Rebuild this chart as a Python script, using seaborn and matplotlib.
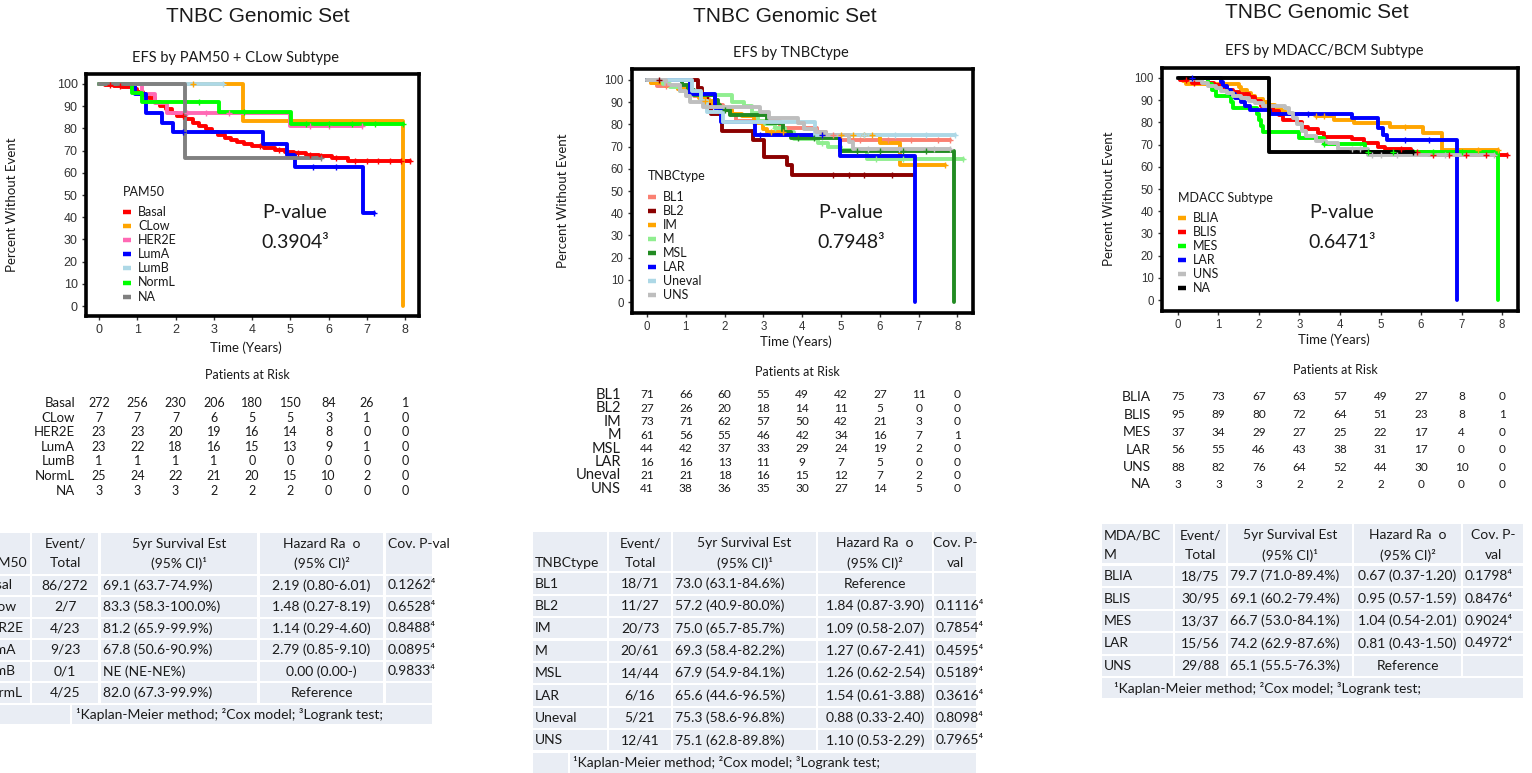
import numpy as np
import pandas as pd
import matplotlib
matplotlib.use("Agg")
import matplotlib.pyplot as plt
import seaborn as sns
from matplotlib.lines import Line2D
from matplotlib.patches import Rectangle
from matplotlib.transforms import blended_transform_factory

sns.set_theme(style="white")
plt.rcParams["font.family"] = ["Lato", "DejaVu Sans"]

W, H = 1532, 773
YEARS = list(range(9))
FOOTNOTE = "¹Kaplan-Meier method; ²Cox model; ³Logrank test;"
TITLE = "TNBC Genomic Set"

# ---------------- PAM50 + CLow ----------------
pam50_order = ["Basal", "CLow", "HER2E", "LumA", "LumB", "NormL", "NA"]
pam50_colors = {"Basal": "#FF0000", "CLow": "#FFA500", "HER2E": "#FF69B4",
                "LumA": "#0000FF", "LumB": "#ADD8E6", "NormL": "#00FF00", "NA": "#808080"}
pam50_times = {
    "Basal": [0, 0.15, 0.4, 0.6, 0.85, 1.0, 1.15, 1.3, 1.45, 1.6, 1.75, 1.9, 2.05, 2.25,
              2.45, 2.6, 2.8, 2.95, 3.1, 3.3, 3.45, 3.6, 3.8, 4.0, 4.3, 4.6, 4.85, 5.1,
              5.4, 5.75, 6.1, 6.5],
    "CLow": [0, 3.75, 7.93],
    "HER2E": [0, 1.11, 1.46, 1.77, 4.99],
    "LumA": [0, 0.94, 1.24, 1.64, 1.94, 4.29, 4.92, 5.13, 6.9],
    "LumB": [0],
    "NormL": [0, 0.85, 1.11, 3.13, 5.01],
    "NA": [0, 2.25],
}
pam50_surv = {
    "Basal": [100, 99.6, 99.0, 98.5, 97.8, 96.6, 95.2, 93.9, 92.0, 90.3, 88.6, 87.0, 85.6,
              84.1, 82.4, 81.0, 79.6, 78.4, 77.2, 75.8, 74.8, 73.9, 73.0, 72.2, 71.3, 70.2,
              69.4, 68.8, 68.2, 67.5, 66.8, 65.3],
    "CLow": [100, 83.3, 0],
    "HER2E": [100, 95.7, 91.3, 87.0, 81.2],
    "LumA": [100, 95.7, 87.0, 82.6, 78.3, 73.1, 67.8, 62.6, 41.8],
    "LumB": [100],
    "NormL": [100, 96.0, 92.0, 87.4, 82.0],
    "NA": [100, 66.7],
}
# last follow-up (None when the curve ends in a drop)
pam50_last = {"Basal": 8.12, "CLow": None, "HER2E": 6.86, "LumA": 7.18,
              "LumB": 3.23, "NormL": 7.95, "NA": 5.81}
pam50_censor = {
    "Basal": [0.3, 0.55, 2.2, 4.2, 4.7, 5.2, 5.5, 5.8, 6.2, 6.7, 7.0, 7.3, 7.6, 7.9, 8.12],
    "CLow": [2.46], "HER2E": [2.3, 2.8, 3.4, 5.5, 6.0, 6.86], "LumA": [2.2, 5.6, 6.2, 7.18],
    "LumB": [3.23], "NormL": [2.6, 3.8, 5.4, 6.0, 6.6, 7.2, 7.95], "NA": [5.81],
}
pam50_at_risk = {
    "Basal": [272, 256, 230, 206, 180, 150, 84, 26, 1],
    "CLow": [7, 7, 7, 6, 5, 5, 3, 1, 0],
    "HER2E": [23, 23, 20, 19, 16, 14, 8, 0, 0],
    "LumA": [23, 22, 18, 16, 15, 13, 9, 1, 0],
    "LumB": [1, 1, 1, 1, 0, 0, 0, 0, 0],
    "NormL": [25, 24, 22, 21, 20, 15, 10, 2, 0],
    "NA": [3, 3, 3, 2, 2, 2, 0, 0, 0],
}
pam50_pvalue = "0.3904³"
pam50_tab_groups = ["Basal", "CLow", "HER2E", "LumA", "LumB", "NormL"]
pam50_tab_events = ["86/272", "2/7", "4/23", "9/23", "0/1", "4/25"]
pam50_tab_surv5 = ["69.1 (63.7-74.9%)", "83.3 (58.3-100.0%)", "81.2 (65.9-99.9%)",
                   "67.8 (50.6-90.9%)", "NE (NE-NE%)", "82.0 (67.3-99.9%)"]
pam50_tab_hr = ["2.19 (0.80-6.01)", "1.48 (0.27-8.19)", "1.14 (0.29-4.60)",
                "2.79 (0.85-9.10)", "0.00 (0.00-)", "Reference"]
pam50_tab_p = ["0.1262⁴", "0.6528⁴", "0.8488⁴", "0.0895⁴", "0.9833⁴", ""]

# ---------------- TNBCtype ----------------
tnbc_order = ["BL1", "BL2", "IM", "M", "MSL", "LAR", "Uneval", "UNS"]
tnbc_colors = {"BL1": "#FA8072", "BL2": "#8B0000", "IM": "#FFA500", "M": "#90EE90",
               "MSL": "#228B22", "LAR": "#0000FF", "Uneval": "#ADD8E6", "UNS": "#BEBEBE"}
tnbc_times = {
    "BL1": [0, 0.1, 0.25, 0.8, 1.0, 1.2, 1.4, 1.6, 1.75, 1.95, 2.1, 2.2, 2.3, 3.43, 4.37,
            4.6, 4.97],
    "BL2": [0, 1.32, 1.42, 1.55, 1.65, 1.93, 2.74, 3.02, 3.6, 3.73],
    "IM": [0, 0.1, 0.5, 0.8, 1.0, 1.2, 1.35, 1.5, 1.7, 1.85, 2.0, 2.2, 2.45, 2.75, 3.0,
           3.1, 3.7, 6.0, 6.52],
    "M": [0, 0.4, 0.6, 0.85, 1.05, 2.2, 2.5, 2.7, 2.85, 3.05, 3.3, 3.55, 3.8, 4.4, 4.67,
          5.0, 5.66],
    "MSL": [0, 0.9, 1.05, 1.2, 1.75, 1.82, 1.88, 2.15, 3.08, 3.5, 3.7, 4.97, 7.9],
    "LAR": [0, 1.11, 1.75, 1.9, 2.78, 4.97, 6.91],
    "Uneval": [0, 1.15, 1.4, 1.55, 1.95, 4.33],
    "UNS": [0, 0.5, 0.85, 1.0, 1.1, 1.45, 2.9, 3.15, 3.9, 4.05, 4.35, 4.62, 5.2, 5.3],
}
tnbc_surv = {
    "BL1": [100, 98.6, 97.2, 95.8, 94.4, 93.0, 91.5, 90.1, 88.7, 87.3, 85.9, 84.5, 81.7,
            78.6, 76.7, 75.0, 73.0],
    "BL2": [100, 96.3, 92.6, 88.9, 84.7, 76.9, 73.0, 65.4, 61.5, 57.2],
    "IM": [100, 98.6, 97.3, 95.9, 94.5, 93.2, 91.8, 90.4, 89.0, 87.7, 86.3, 84.9, 83.6,
           80.8, 78.1, 76.7, 75.3, 71.4, 61.6],
    "M": [100, 98.4, 96.7, 95.1, 93.4, 90.0, 88.3, 85.0, 81.7, 80.0, 78.3, 76.6, 73.5,
          71.8, 70.0, 68.3, 64.2],
    "MSL": [100, 97.7, 95.5, 93.2, 90.9, 88.6, 86.4, 84.1, 80.7, 76.7, 74.0, 67.9, 0],
    "LAR": [100, 93.8, 87.5, 81.3, 75.0, 65.6, 0],
    "Uneval": [100, 95.2, 90.5, 85.7, 81.0, 75.3],
    "UNS": [100, 97.6, 95.1, 92.7, 90.2, 87.8, 85.4, 82.9, 80.5, 78.0, 76.6, 75.1, 71.9,
            68.8],
}
tnbc_last = {"BL1": 7.8, "BL2": 6.86, "IM": 7.68, "M": 8.15, "MSL": None, "LAR": None,
             "Uneval": 7.94, "UNS": 7.81}
tnbc_censor = {
    "BL1": [0.5, 4.8, 5.5, 6.2, 6.8, 7.5, 7.8], "BL2": [0.3, 4.8, 5.2, 5.6, 6.3],
    "IM": [1.5, 3.2, 3.5, 4.5, 5.0, 5.3, 5.6, 5.8, 7.68], "M": [3.3, 4.5, 5.9, 6.6, 8.15],
    "MSL": [2.0, 3.9, 4.3, 5.4, 6.0, 6.6, 7.2], "LAR": [2.9, 4.5],
    "Uneval": [5.6, 6.4, 7.2, 7.94], "UNS": [5.7, 6.5, 7.4, 7.81],
}
tnbc_at_risk = {
    "BL1": [71, 66, 60, 55, 49, 42, 27, 11, 0],
    "BL2": [27, 26, 20, 18, 14, 11, 5, 0, 0],
    "IM": [73, 71, 62, 57, 50, 42, 21, 3, 0],
    "M": [61, 56, 55, 46, 42, 34, 16, 7, 1],
    "MSL": [44, 42, 37, 33, 29, 24, 19, 2, 0],
    "LAR": [16, 16, 13, 11, 9, 7, 5, 0, 0],
    "Uneval": [21, 21, 18, 16, 15, 12, 7, 2, 0],
    "UNS": [41, 38, 36, 35, 30, 27, 14, 5, 0],
}
tnbc_pvalue = "0.7948³"
tnbc_tab_groups = ["BL1", "BL2", "IM", "M", "MSL", "LAR", "Uneval", "UNS"]
tnbc_tab_events = ["18/71", "11/27", "20/73", "20/61", "14/44", "6/16", "5/21", "12/41"]
tnbc_tab_surv5 = ["73.0 (63.1-84.6%)", "57.2 (40.9-80.0%)", "75.0 (65.7-85.7%)",
                  "69.3 (58.4-82.2%)", "67.9 (54.9-84.1%)", "65.6 (44.6-96.5%)",
                  "75.3 (58.6-96.8%)", "75.1 (62.8-89.8%)"]
tnbc_tab_hr = ["Reference", "1.84 (0.87-3.90)", "1.09 (0.58-2.07)", "1.27 (0.67-2.41)",
               "1.26 (0.62-2.54)", "1.54 (0.61-3.88)", "0.88 (0.33-2.40)", "1.10 (0.53-2.29)"]
tnbc_tab_p = ["", "0.1116⁴", "0.7854⁴", "0.4595⁴", "0.5189⁴", "0.3616⁴", "0.8098⁴", "0.7965⁴"]

# ---------------- MDACC/BCM ----------------
mdacc_order = ["BLIA", "BLIS", "MES", "LAR", "UNS", "NA"]
mdacc_colors = {"BLIA": "#FFA500", "BLIS": "#FF0000", "MES": "#00FF00",
                "LAR": "#0000FF", "UNS": "#BEBEBE", "NA": "#000000"}
mdacc_times = {
    "BLIA": [0, 0.12, 0.2, 1.5, 1.55, 1.7, 1.8, 1.9, 2.1, 2.2, 2.4, 2.55, 2.65, 3.4, 3.85,
             4.35, 5.24, 6.06, 6.52],
    "BLIS": [0, 0.05, 0.35, 0.9, 1.05, 1.2, 1.35, 1.5, 1.75, 1.9, 2.05, 2.35, 2.5, 2.6,
             2.95, 3.05, 3.2, 3.45, 3.6, 4.3, 4.6, 4.95, 5.1, 5.75, 6.2],
    "MES": [0, 0.75, 0.85, 0.95, 1.3, 1.35, 1.95, 2.0, 2.05, 2.1, 3.0, 3.6, 4.62, 7.9],
    "LAR": [0, 1.07, 1.12, 1.2, 1.3, 1.4, 1.55, 1.65, 1.77, 2.27, 4.29, 4.95, 5.07, 5.15,
            6.89],
    "UNS": [0, 0.3, 0.6, 0.75, 0.95, 1.05, 1.2, 1.35, 1.55, 1.75, 1.9, 2.1, 2.65, 2.75,
            2.85, 2.95, 3.05, 3.15, 3.4, 3.65, 3.95, 4.7],
    "NA": [0, 2.25],
}
mdacc_surv = {
    "BLIA": [100, 98.7, 97.3, 96.0, 94.7, 93.3, 92.0, 90.7, 89.3, 88.0, 86.7, 85.3, 84.0,
             82.7, 81.2, 79.7, 77.9, 75.2, 67.7],
    "BLIS": [100, 98.9, 97.9, 96.8, 95.8, 94.7, 93.7, 92.6, 91.6, 89.5, 87.4, 85.3, 83.2,
             81.1, 80.0, 77.9, 76.8, 75.0, 73.5, 72.3, 70.8, 69.1, 68.0, 66.5, 65.5],
    "MES": [100, 97.3, 94.6, 91.9, 89.2, 86.5, 83.8, 81.1, 78.4, 75.7, 73.0, 70.3, 66.7, 0],
    "LAR": [100, 98.2, 96.4, 94.6, 92.9, 91.1, 89.3, 87.5, 85.7, 83.9, 81.9, 77.4, 74.4,
            72.2, 0],
    "UNS": [100, 98.9, 97.7, 96.6, 95.5, 94.3, 93.2, 92.0, 90.9, 89.8, 88.6, 87.5, 86.4,
            84.1, 81.8, 79.5, 76.1, 73.9, 71.6, 70.5, 68.2, 65.1],
    "NA": [100, 66.7],
}
mdacc_last = {"BLIA": 7.9, "BLIS": 8.12, "MES": None, "LAR": None, "UNS": 7.8, "NA": 5.81}
mdacc_censor = {
    "BLIA": [3.4, 3.6, 5.6, 7.4, 7.9], "BLIS": [0.2, 0.4, 5.5, 5.9, 6.3, 6.7, 7.1, 7.6, 8.12],
    "MES": [3.6, 4.7, 5.3, 6.3, 7.0], "LAR": [0.35, 3.2, 5.6, 6.2],
    "UNS": [4.3, 4.5, 4.8, 5.0, 5.4, 6.6, 7.8], "NA": [5.81],
}
mdacc_at_risk = {
    "BLIA": [75, 73, 67, 63, 57, 49, 27, 8, 0],
    "BLIS": [95, 89, 80, 72, 64, 51, 23, 8, 1],
    "MES": [37, 34, 29, 27, 25, 22, 17, 4, 0],
    "LAR": [56, 55, 46, 43, 38, 31, 17, 0, 0],
    "UNS": [88, 82, 76, 64, 52, 44, 30, 10, 0],
    "NA": [3, 3, 3, 2, 2, 2, 0, 0, 0],
}
mdacc_pvalue = "0.6471³"
mdacc_tab_groups = ["BLIA", "BLIS", "MES", "LAR", "UNS"]
mdacc_tab_events = ["18/75", "30/95", "13/37", "15/56", "29/88"]
mdacc_tab_surv5 = ["79.7 (71.0-89.4%)", "69.1 (60.2-79.4%)", "66.7 (53.0-84.1%)",
                   "74.2 (62.9-87.6%)", "65.1 (55.5-76.3%)"]
mdacc_tab_hr = ["0.67 (0.37-1.20)", "0.95 (0.57-1.59)", "1.04 (0.54-2.01)",
                "0.81 (0.43-1.50)", "Reference"]
mdacc_tab_p = ["0.1798⁴", "0.8476⁴", "0.9024⁴", "0.4972⁴", ""]

HEAD_EVT = ("Event/", "Total")
HEAD_SURV = ("5yr Survival Est", "(95% CI)¹")
HEAD_HR = ("Hazard Ra  o", "(95% CI)²")

# ---------------- drawing helpers ----------------
fig = plt.figure(figsize=(W / 100, H / 100), dpi=100)
fig.patch.set_facecolor("white")
CELL = "#E9EDF4"
INK = "#1A1A1A"
TICK = "#333333"


def fx(x):
    return x / W


def fy(y):
    return 1 - y / H


def ftext(x, y, s, **kw):
    kw.setdefault("va", "center")
    kw.setdefault("color", INK)
    return fig.text(fx(x), fy(y), s, **kw)


def km_panel(box, xlim, ylim, order, colors, times, surv, last, censor, tick_fs):
    l, t, r, b = box
    ax = fig.add_axes([fx(l), fy(b), (r - l) / W, (b - t) / H])
    recs = []
    for g in order:
        tt = list(times[g])
        ss = list(surv[g])
        if last[g] is not None:
            tt.append(last[g])
            ss.append(ss[-1])
        recs += [{"group": g, "time": a, "surv": v} for a, v in zip(tt, ss)]
    df = pd.DataFrame(recs)
    sns.lineplot(data=df, x="time", y="surv", hue="group", hue_order=order,
                 palette=colors, estimator=None, drawstyle="steps-post",
                 linewidth=2.8, legend=False, ax=ax)
    for g in order:
        cx = np.asarray(censor.get(g, []), dtype=float)
        if cx.size == 0:
            continue
        idx = np.searchsorted(np.asarray(times[g]), cx, side="right") - 1
        cy = np.asarray(surv[g], dtype=float)[idx]
        ax.plot(cx, cy, ls="none", marker="+", ms=5, mew=1.0, color=colors[g], zorder=3)
    ax.set_xlim(*xlim)
    ax.set_ylim(*ylim)
    ax.set_xticks(YEARS)
    ax.set_yticks(range(0, 101, 10))
    ax.tick_params(axis="both", which="major", direction="out", length=3, width=1,
                   color=TICK, labelcolor=TICK, labelsize=tick_fs, pad=3,
                   bottom=True, left=True)
    for lab in ax.get_xticklabels() + ax.get_yticklabels():
        lab.set_fontfamily(["Liberation Sans", "DejaVu Sans"])
    for sp in ax.spines.values():
        sp.set_linewidth(2.6)
        sp.set_color("black")
    ax.set_facecolor("white")
    return ax


def axis_labels(ax, xl_xy, yl_xy, fs=9.5):
    ax.set_xlabel("Time (Years)", fontsize=fs, color=INK)
    ax.set_ylabel("Percent Without Event", fontsize=fs, color=INK)
    ax.xaxis.set_label_coords(fx(xl_xy[0]), fy(xl_xy[1]), transform=fig.transFigure)
    ax.yaxis.set_label_coords(fx(yl_xy[0]), fy(yl_xy[1]), transform=fig.transFigure)
    ax.xaxis.label.set_va("center")
    ax.yaxis.label.set_va("center")


def draw_key(order, colors, title, title_xy, y0, pitch, kx0, kx1, tx, fs=9):
    ftext(title_xy[0], title_xy[1], title, ha="left", fontsize=fs)
    for i, g in enumerate(order):
        y = y0 + i * pitch
        fig.add_artist(Line2D([fx(kx0), fx(kx1)], [fy(y), fy(y)],
                              transform=fig.transFigure, color=colors[g], lw=3.2,
                              solid_capstyle="butt"))
        ftext(tx, y, g, ha="left", fontsize=fs)


def pvalue_text(x, y1, y2, value, fs=14):
    ftext(x, y1, "P-value", ha="center", fontsize=fs)
    ftext(x, y2, value, ha="center", fontsize=fs)


def at_risk(ax, order, counts, title_xy, y0, pitch, label_x, fs_label, fs_num):
    ftext(title_xy[0], title_xy[1], "Patients at Risk", ha="center", fontsize=9)
    trans = blended_transform_factory(ax.transData, fig.transFigure)
    for i, g in enumerate(order):
        y = y0 + i * pitch
        ftext(label_x, y, g, ha="right", fontsize=fs_label)
        for t, n in zip(YEARS, counts[g]):
            ax.text(t, fy(y), str(n), transform=trans, ha="center", va="center",
                    fontsize=fs_num, color=INK, clip_on=False)


def cell(x0, x1, y0, y1):
    fig.add_artist(Rectangle((fx(x0), fy(y1)), (x1 - x0) / W, (y1 - y0) / H,
                             transform=fig.transFigure, facecolor=CELL,
                             edgecolor="none", zorder=0))


def put(x0, x1, y, s, align, fs):
    if not s:
        return
    if align == "l":
        ftext(x0 + 2, y, s, ha="left", fontsize=fs)
    else:
        ftext((x0 + x1) / 2, y, s, ha="center", fontsize=fs)


def stats_table(cols, head_box, head_ys, header, head_align, row_top, pitch, row_h,
                columns, body_align, foot_cells, foot_x, fs=10):
    for x0, x1 in cols:
        cell(x0, x1, head_box[0], head_box[1])
    for j, (x0, x1) in enumerate(cols):
        for k, line in enumerate(header[j]):
            put(x0, x1, head_ys[k], line, head_align[j], fs)
    nrows = len(columns[0])
    for i in range(nrows):
        top = row_top + i * pitch
        for j, (x0, x1) in enumerate(cols):
            cell(x0, x1, top, top + row_h)
            put(x0, x1, top + row_h / 2, columns[j][i], body_align[j], fs)
    foot_top = row_top + nrows * pitch
    for x0, x1 in foot_cells:
        cell(x0, x1, foot_top, foot_top + row_h)
    ftext(foot_x, foot_top + row_h / 2, FOOTNOTE, ha="left", fontsize=fs)


BODY_ALIGN = ["l", "c", "l", "c", "l"]

# ---------------- panel 1: PAM50 + CLow ----------------
ftext(258, 17, TITLE, ha="center", fontsize=15, family=["Liberation Sans", "DejaVu Sans"])
ftext(236, 58, "EFS by PAM50 + CLow Subtype", ha="center", fontsize=10.5)
ax1 = km_panel((86, 74, 419, 316), (-0.34, 8.36), (-4.5, 104.5), pam50_order,
               pam50_colors, pam50_times, pam50_surv, pam50_last, pam50_censor, 9)
axis_labels(ax1, (246, 348), (12, 205))
draw_key(pam50_order, pam50_colors, "PAM50", (122.5, 192.5), 212, 14.1, 123, 131, 138)
pvalue_text(295, 212, 242, pam50_pvalue)
at_risk(ax1, pam50_order, pam50_at_risk, (247, 375), 403, 14.6, 75, 9.5, 9)
stats_table(
    cols=[(-21, 30), (32, 98), (101, 257), (260, 383), (386, 432)],
    head_box=(533, 573.5), head_ys=(544, 563),
    header=[("", "PAM50"), HEAD_EVT, HEAD_SURV, HEAD_HR, ("Cov. P-val", "")],
    head_align=["l", "c", "c", "c", "l"],
    row_top=575.5, pitch=21.5, row_h=19.5,
    columns=[pam50_tab_groups, pam50_tab_events, pam50_tab_surv5, pam50_tab_hr, pam50_tab_p],
    body_align=BODY_ALIGN, foot_cells=[(-21, 70), (72, 432)], foot_x=76)

# ---------------- panel 2: TNBCtype ----------------
ftext(785, 17, TITLE, ha="center", fontsize=15, family=["Liberation Sans", "DejaVu Sans"])
ftext(791, 53, "EFS by TNBCtype", ha="center", fontsize=10.5)
ax2 = km_panel((632, 69, 973, 313), (-0.387, 8.40), (-4.95, 104.95), tnbc_order,
               tnbc_colors, tnbc_times, tnbc_surv, tnbc_last, tnbc_censor, 8.3)
axis_labels(ax2, (795.5, 342), (563, 201))
draw_key(tnbc_order, tnbc_colors, "TNBCtype", (647.5, 175.7), 196.7, 14.0, 648, 656, 663)
pvalue_text(851, 213, 242, tnbc_pvalue)
at_risk(ax2, tnbc_order, tnbc_at_risk, (797, 372), 395, 13.4, 621, 10.5, 8.6)
stats_table(
    cols=[(533, 607), (609, 671), (673, 816), (818, 932), (934, 976)],
    head_box=(532, 571), head_ys=(543, 563),
    header=[("", "TNBCtype"), HEAD_EVT, HEAD_SURV, HEAD_HR, ("Cov. P-", "val")],
    head_align=["l", "c", "c", "c", "c"],
    row_top=573.3, pitch=22.4, row_h=20.4,
    columns=[tnbc_tab_groups, tnbc_tab_events, tnbc_tab_surv5, tnbc_tab_hr, tnbc_tab_p],
    body_align=BODY_ALIGN, foot_cells=[(533, 568), (570, 976)], foot_x=573)

# ---------------- panel 3: MDACC/BCM ----------------
ftext(1317, 12, TITLE, ha="center", fontsize=15, family=["Liberation Sans", "DejaVu Sans"])
ftext(1324, 51, "EFS by MDACC/BCM Subtype", ha="center", fontsize=10.5)
ax3 = km_panel((1162, 68, 1518, 311), (-0.395, 8.395), (-4.95, 104.5), mdacc_order,
               mdacc_colors, mdacc_times, mdacc_surv, mdacc_last, mdacc_censor, 8.3)
axis_labels(ax3, (1334, 340), (1109, 199))
draw_key(mdacc_order, mdacc_colors, "MDACC Subtype", (1177.5, 197.7), 218.3, 14.0,
         1178, 1186, 1193)
pvalue_text(1342, 213, 242, mdacc_pvalue)
at_risk(ax3, mdacc_order, mdacc_at_risk, (1335, 370), 397, 17.5, 1151, 10, 8.5)
stats_table(
    cols=[(1102, 1173), (1175, 1226), (1228, 1352), (1354, 1461), (1463, 1523)],
    head_box=(524, 563), head_ys=(535, 555),
    header=[("MDA/BC", "M"), HEAD_EVT, HEAD_SURV, HEAD_HR, ("Cov. P-", "val")],
    head_align=["l", "c", "c", "c", "c"],
    row_top=566, pitch=22.4, row_h=20.4,
    columns=[mdacc_tab_groups, mdacc_tab_events, mdacc_tab_surv5, mdacc_tab_hr, mdacc_tab_p],
    body_align=BODY_ALIGN, foot_cells=[(1102, 1523)], foot_x=1114)

fig.savefig("out.png", dpi=100, facecolor="white")
